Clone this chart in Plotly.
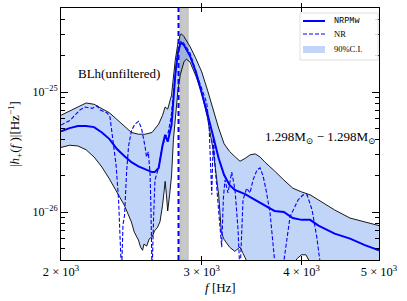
import plotly.graph_objects as go

# ---------------- data ----------------
up_f = [2000, 2050, 2100, 2150, 2200, 2250, 2300, 2350, 2400, 2450, 2500, 2550, 2600, 2650,
        2680, 2700, 2720, 2750, 2780, 2800, 2820, 2830, 2850, 2870, 2900, 2950, 3000, 3050,
        3100, 3150, 3200, 3250, 3300, 3350, 3400, 3450, 3500, 3550, 3600, 3650, 3700, 3800,
        3900, 4000, 4100, 4200, 4400, 4600, 4800, 5000]
up_h = [6.4e-26, 6.9e-26, 7.5e-26, 8.1e-26, 7.9e-26, 7.3e-26, 6.7e-26, 5.9e-26, 5.2e-26, 4.6e-26,
        4.45e-26, 4.45e-26, 4.6e-26, 5.4e-26, 6.4e-26, 7.5e-26, 7.2e-26, 9.4e-26, 1.85e-25, 2.5e-25,
        3.0e-25, 3.05e-25, 2.9e-25, 2.7e-25, 2.4e-25, 1.9e-25, 1.47e-25, 1.04e-25, 7.1e-26, 5.0e-26,
        3.7e-26, 3.2e-26, 2.9e-26, 2.65e-26, 2.8e-26, 3.0e-26, 3.05e-26, 2.87e-26, 2.6e-26, 2.37e-26,
        2.2e-26, 1.85e-26, 1.58e-26, 1.47e-26, 1.39e-26, 1.26e-26, 1.04e-26, 8.9e-27, 8.25e-27, 7.7e-27]

lo_f = [2000, 2050, 2100, 2150, 2200, 2250, 2300, 2350, 2400, 2450, 2470, 2500, 2515, 2530,
        2540, 2560, 2580, 2600, 2620, 2640, 2660, 2680, 2690, 2700, 2710, 2720, 2735, 2750,
        2765, 2780, 2800, 2820, 2850, 2870, 2900, 2950, 3000, 3050, 3100, 3150, 3175, 3200,
        3250, 3300, 3350, 3375, 3400, 3450, 3500, 3800, 3900, 3950, 4000, 4050, 4100, 4200, 5000]
lo_h = [3.45e-26, 3.6e-26, 3.55e-26, 3.3e-26, 2.87e-26, 2.37e-26, 1.88e-26, 1.47e-26, 1.14e-26,
        8.25e-27, 6.8e-27, 5.84e-27, 5.1e-27, 4.8e-27, 5.4e-27, 5.2e-27, 6.0e-27, 6.2e-27, 7.0e-27,
        7.4e-27, 8.3e-27, 1.14e-26, 1.53e-26, 1.8e-26, 1.39e-26, 1.02e-26, 1.39e-26, 2.0e-26,
        4.0e-26, 6.4e-26, 1.0e-25, 1.39e-25, 1.78e-25, 1.88e-25, 1.78e-25, 1.36e-25, 9.8e-26,
        6.1e-26, 3.3e-26, 1.39e-26, 6.7e-27, 5.9e-27, 5.1e-27, 4.7e-27, 5.1e-27, 4.6e-27, 4.2e-27,
        3.4e-27, 3.0e-27, 3.0e-27, 3.55e-27, 4.1e-27, 4.4e-27, 4.4e-27, 3.8e-27, 3.0e-27, 3.0e-27]

med_f = [2000, 2050, 2100, 2150, 2200, 2250, 2300, 2350, 2400, 2450, 2500, 2550, 2600, 2620,
         2650, 2680, 2700, 2720, 2750, 2780, 2800, 2820, 2830, 2850, 2870, 2900, 2950, 3000,
         3050, 3100, 3150, 3200, 3250, 3300, 3350, 3400, 3450, 3500, 3550, 3600, 3700, 3800,
         3900, 4000, 4100, 4200, 4400, 4600, 4800, 5000]
med_h = [4.7e-26, 5.0e-26, 5.2e-26, 5.2e-26, 5.1e-26, 4.6e-26, 4.05e-26, 3.35e-26, 2.93e-26,
         2.6e-26, 2.4e-26, 2.28e-26, 2.15e-26, 2.15e-26, 2.33e-26, 3.6e-26, 4.4e-26, 3.85e-26,
         5.3e-26, 1.39e-25, 2.1e-25, 2.5e-25, 2.56e-25, 2.46e-25, 2.28e-25, 2.0e-25, 1.47e-25,
         1.0e-25, 6.6e-26, 4.3e-26, 2.8e-26, 2.03e-26, 1.68e-26, 1.53e-26, 1.47e-26, 1.41e-26,
         1.33e-26, 1.26e-26, 1.19e-26, 1.12e-26, 1.02e-26, 1.0e-26, 8.9e-27, 8.6e-27, 8.6e-27,
         7.7e-27, 6.6e-27, 6.0e-27, 5.3e-27, 4.8e-27]

nr_f = [2000, 2053, 2113, 2143, 2187, 2219, 2238, 2284, 2303, 2323, 2344, 2361, 2371, 2381,
        2391, 2402, 2416, 2430, 2451, 2475, 2501, 2522, 2548, 2559, 2572, 2585, 2592, 2600,
        2611, 2622, 2649, 2673, 2699, 2722, 2746, 2770, 2794, 2818, 2834, 2859, 2901, 2968,
        3044, 3064, 3077, 3088, 3102, 3117, 3147, 3178, 3193, 3208, 3236, 3271, 3302, 3331,
        3350, 3379, 3415, 3448, 3478, 3518, 3549, 3580, 3611, 3653, 3706, 3735, 3795, 3869,
        3960, 4017, 4064, 4123, 4179, 4219, 4280, 4500]
nr_h = [5.3e-26, 5.8e-26, 7.1e-26, 7.5e-26, 7.3e-26, 7.65e-26, 7.1e-26, 6.7e-26, 6.2e-26,
        4.0e-26, 2.46e-26, 1.26e-26, 7.1e-27, 3.0e-27, 7.8e-27, 9.4e-27, 2.15e-26, 3.55e-26,
        4.8e-26, 5.4e-26, 5.7e-26, 5.0e-26, 3.5e-26, 2.87e-26, 3.16e-26, 2.1e-26, 1.04e-26,
        3.0e-27, 8.6e-27, 1.85e-26, 2.33e-26, 3.3e-26, 4.15e-26, 4.5e-26, 6.1e-26, 1.08e-25,
        1.92e-25, 2.6e-25, 2.66e-25, 2.46e-25, 2.11e-25, 1.31e-25, 8.1e-26, 5.3e-26, 2.7e-26,
        1.39e-26, 4.4e-26, 2.46e-26, 1.1e-26, 5.1e-27, 1.3e-26, 1.85e-26, 1.44e-26, 2.15e-26,
        1.53e-26, 7.1e-27, 3.0e-27, 1.26e-26, 1.58e-26, 1.44e-26, 1.85e-26, 2.24e-26, 2.33e-26,
        2.0e-26, 1.53e-26, 9.8e-27, 3.6e-27, 1.9e-27, 3.6e-27, 9.1e-27, 1.26e-26, 1.39e-26,
        1.39e-26, 1.04e-26, 6.2e-27, 3.6e-27, 1.85e-27, 1.2e-27]

nr_peak_f = 2806
nrpmw_f2_lo, nrpmw_f2_hi = 2818, 2886

x_ticks = [2000, 3000, 4000, 5000]
x_ticktext = ["2 × 10<sup>3</sup>", "3 × 10<sup>3</sup>", "4 × 10<sup>3</sup>", "5 × 10<sup>3</sup>"]
y_ticks = [1e-26, 1e-25]
y_ticktext = ["10<sup>−26</sup>", "10<sup>−25</sup>"]
y_minor = [m * 1e-27 for m in range(4, 10)] + [m * 1e-26 for m in range(2, 10)] + [m * 1e-25 for m in range(2, 6)]

legend_labels = ["NRPMw", "NR", "90%C.I."]

SERIF = "Liberation Serif, DejaVu Serif, serif"
W, H = 407, 301
ML, MR, MT, MB = 61, 28, 8, 41
PW, PH = W - ML - MR, H - MT - MB
Y_RANGE = [-26.4, -24.3]


def px(x):
    return (x - ML) / PW


def py(y):
    return (H - MB - y) / PH


fig = go.Figure()

# grey band
fig.add_vrect(x0=nrpmw_f2_lo, x1=nrpmw_f2_hi, fillcolor="rgb(200,200,200)", opacity=1,
              line=dict(color="rgb(175,175,175)", width=0.6), layer="below")

# 90% CI band (fill)
fig.add_trace(go.Scatter(x=up_f + lo_f[::-1], y=up_h + lo_h[::-1], fill="toself",
                         fillcolor="rgba(100,149,237,0.4)", line=dict(width=0),
                         mode="lines", showlegend=False, hoverinfo="skip"))
fig.add_trace(go.Scatter(x=up_f, y=up_h, mode="lines", line=dict(color="black", width=0.9),
                         showlegend=False))
fig.add_trace(go.Scatter(x=lo_f, y=lo_h, mode="lines", line=dict(color="black", width=0.9),
                         showlegend=False))

# NR dashed
fig.add_trace(go.Scatter(x=nr_f, y=nr_h, mode="lines", showlegend=False,
                         line=dict(color="#0000ff", width=1.1, dash="4px,2px")))
# NRPMw median
fig.add_trace(go.Scatter(x=med_f, y=med_h, mode="lines", showlegend=False,
                         line=dict(color="#0000ff", width=2)))

# invisible trace on the overlay axis carrying the minor ticks
fig.add_trace(go.Scatter(x=[x_ticks[0]], y=[y_ticks[0]], yaxis="y2", mode="markers",
                         marker=dict(opacity=0), showlegend=False, hoverinfo="skip"))

fig.add_vline(x=nr_peak_f, line=dict(color="#0000ff", width=2, dash="5px,3px"))

# manual legend (paper coordinates)
fig.add_shape(type="rect", xref="paper", yref="paper", x0=px(300), x1=px(378), y0=py(60), y1=py(13),
              line=dict(color="rgb(215,215,215)", width=0.8), fillcolor="rgba(255,255,255,0.85)", layer="above")
fig.add_shape(type="line", xref="paper", yref="paper", x0=px(303), x1=px(325), y0=py(21), y1=py(21),
              line=dict(color="#0000ff", width=2), layer="above")
fig.add_shape(type="line", xref="paper", yref="paper", x0=px(303), x1=px(325), y0=py(34), y1=py(34),
              line=dict(color="#0000ff", width=1.1, dash="4px,2px"), layer="above")
fig.add_shape(type="rect", xref="paper", yref="paper", x0=px(303), x1=px(325), y0=py(53), y1=py(46),
              line=dict(width=0), fillcolor="rgba(100,149,237,0.4)", layer="above")
for lab, yy, fam in zip(legend_labels, [21, 34, 49.5],
                        ["Liberation Mono, DejaVu Sans Mono, monospace", SERIF, SERIF]):
    fig.add_annotation(xref="paper", yref="paper", x=px(332), y=py(yy), xanchor="left", yanchor="middle",
                       text=lab, showarrow=False, font=dict(family=fam, size=8.5))

fig.update_layout(
    width=W, height=H,
    margin=dict(l=ML, r=MR, t=MT, b=MB),
    paper_bgcolor="white", plot_bgcolor="white",
    font=dict(family=SERIF, size=10, color="black"),
    showlegend=False,
    yaxis2=dict(type="log", overlaying="y", range=Y_RANGE, tickvals=y_minor,
                ticktext=[""] * len(y_minor), ticks="inside", ticklen=4, tickwidth=0.8,
                tickcolor="black", mirror="allticks", showline=False, showgrid=False,
                zeroline=False, side="left"),
)
fig.update_xaxes(type="log", range=[3.30103, 3.69897], tickvals=x_ticks, ticktext=x_ticktext,
                 ticks="inside", ticklen=4, tickwidth=0.8, tickcolor="black",
                 showline=True, linecolor="black", linewidth=1, mirror="allticks",
                 showgrid=False, zeroline=False, tickfont=dict(family=SERIF, size=12.5))
fig.update_layout(yaxis=dict(type="log", range=Y_RANGE, tickvals=y_ticks, ticktext=y_ticktext,
                             ticks="inside", ticklen=7, tickwidth=0.8, tickcolor="black",
                             showline=True, linecolor="black", linewidth=1, mirror="allticks",
                             showgrid=False, zeroline=False, tickfont=dict(family=SERIF, size=12)))

fig.add_annotation(xref="paper", yref="paper", x=px(119), y=py(74), xanchor="center", yanchor="middle",
                   text="BLh(unfiltered)", showarrow=False, font=dict(family=SERIF, size=13))
fig.add_annotation(xref="paper", yref="paper", x=px(378), y=py(137), xanchor="right", yanchor="middle",
                   text="1.298M<sub>⊙</sub> − 1.298M<sub>⊙</sub>", showarrow=False,
                   font=dict(family=SERIF, size=13))
fig.add_annotation(xref="paper", yref="paper", x=px(15), y=py(134), xanchor="center", yanchor="middle",
                   textangle=-90, text="|<i>h</i><sub>+</sub>(<i>f</i> )|[Hz<sup>−1</sup>]",
                   showarrow=False, font=dict(family=SERIF, size=13))
fig.add_annotation(xref="paper", yref="paper", x=px(220), y=py(287), xanchor="center", yanchor="middle",
                   text="<i>f</i> [Hz]", showarrow=False, font=dict(family=SERIF, size=13))

fig.write_html("out.html", config={"displayModeBar": False},
               post_script="document.body.style.margin='0';document.body.style.padding='0';")
